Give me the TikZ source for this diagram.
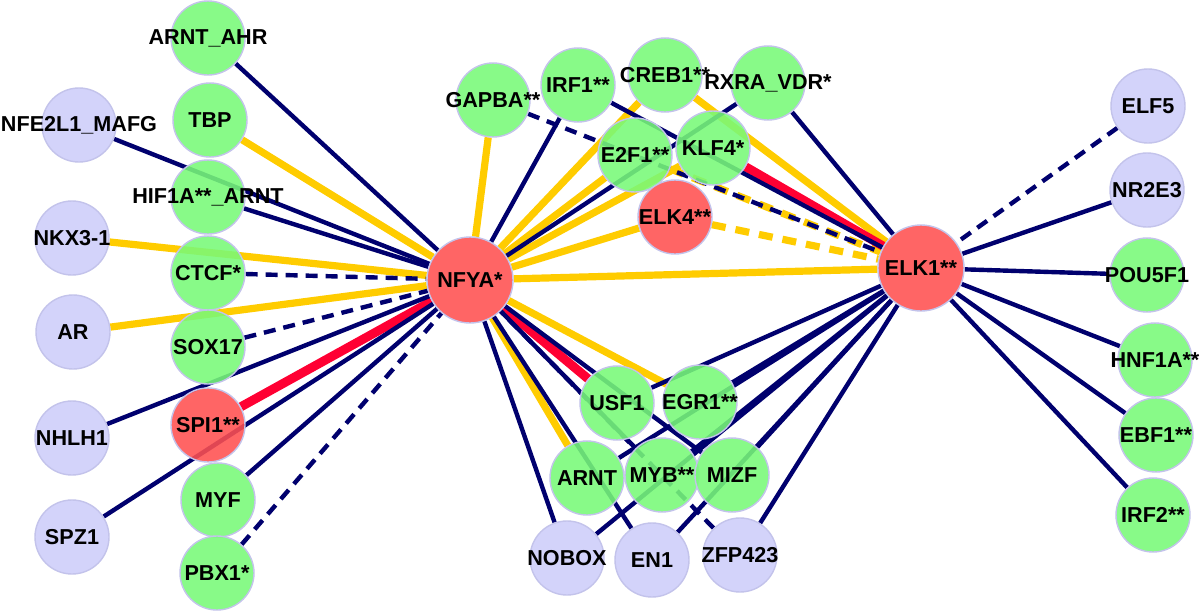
\documentclass[tikz,border=0pt]{standalone}
\usepackage{fontspec}
\setmainfont{Liberation Sans}
\pgfdeclarelayer{bglayer}
\pgfdeclarelayer{edgelayer}
\pgfsetlayers{bglayer,edgelayer,main}
\definecolor{navyc}{RGB}{0,0,110}
\definecolor{yelc}{RGB}{255,204,0}
\definecolor{redc}{RGB}{255,0,51}
\definecolor{grn}{RGB}{120,250,120}
\definecolor{lav}{RGB}{205,205,250}
\definecolor{hubc}{RGB}{255,80,80}
\definecolor{rim}{RGB}{195,195,235}
\tikzset{
 lbl/.style={font=\fontsize{10.8}{12}\selectfont\bfseries, text=black, text opacity=1, inner sep=0pt},
 tf/.style={circle, draw=rim, line width=0.7pt, minimum size=37pt, inner sep=0pt, fill opacity=0.88},
 gn/.style={tf, fill=grn},
 lv/.style={tf, fill=lav},
 rn/.style={tf, fill=hubc},
 hb/.style={rn, minimum size=43pt},
 nv/.style={draw=navyc, line width=2.2pt},
 nvd/.style={nv, dash pattern=on 6pt off 4pt},
 yl/.style={draw=yelc, line width=3.6pt},
 yld/.style={yl, dash pattern=on 7pt off 5pt},
 rd/.style={draw=redc, line width=4.5pt},
}
\begin{document}
\begin{tikzpicture}[x=0.5pt,y=-0.5pt]
\begin{pgfonlayer}{bglayer}
\fill[white] (0,0) rectangle (1200,611);
\end{pgfonlayer}
\useasboundingbox (0,0) rectangle (1200,611);
% hubs
\node[hb, label={[lbl]center:NFYA*}] (nfya) at (470,280) {};
\node[hb, label={[lbl]center:ELK1**}] (elk1) at (921,268) {};
% left outer column
\node[lv, label={[lbl]center:NFE2L1\_MAFG}] (nfe) at (79,125) {};
\node[lv, label={[lbl]center:NKX3-1}] (nkx) at (72,238) {};
\node[lv, label={[lbl]center:AR}] (ar) at (73,332) {};
\node[lv, label={[lbl]center:NHLH1}] (nhlh) at (72,438) {};
\node[lv, label={[lbl]center:SPZ1}] (spz) at (72,537) {};
% left inner column
\node[gn, label={[lbl]center:ARNT\_AHR}] (arntahr) at (208,38) {};
\node[gn, label={[lbl]center:TBP}] (tbp) at (210,120) {};
\node[gn, label={[lbl]center:HIF1A**\_ARNT}] (hif) at (208,197) {};
\node[gn, label={[lbl]center:CTCF*}] (ctcf) at (208,273) {};
\node[gn, label={[lbl]center:SOX17}] (sox) at (208,347) {};
\node[rn, label={[lbl]center:SPI1**}] (spi) at (208,425) {};
\node[gn, label={[lbl]center:MYF}] (myf) at (218,500) {};
\node[gn, label={[lbl]center:PBX1*}] (pbx) at (217,573) {};
% top middle
\node[gn, label={[lbl]center:GAPBA**}] (gapba) at (493,100) {};
\node[gn, label={[lbl]center:IRF1**}] (irf1) at (578,85) {};
\node[gn, label={[lbl]center:CREB1**}] (creb) at (665,75) {};
\node[gn, label={[lbl]center:RXRA\_VDR*}] (rxra) at (768,83) {};
\node[gn, label={[lbl]center:E2F1**}] (e2f1) at (635,155) {};
\node[gn, label={[lbl]center:KLF4*}] (klf4) at (713,148) {};
\node[rn, label={[lbl]center:ELK4**}] (elk4) at (675,217) {};
% bottom middle
\node[gn, label={[lbl]center:USF1}] (usf1) at (617,403) {};
\node[gn, label={[lbl]center:EGR1**}] (egr1) at (700,402) {};
\node[gn, label={[lbl]center:ARNT}] (arnt) at (587,478) {};
\node[gn, label={[lbl]center:MYB**}] (myb) at (662,475) {};
\node[gn, label={[lbl]center:MIZF}] (mizf) at (732,475) {};
\node[lv, label={[lbl]center:NOBOX}] (nobox) at (567,558) {};
\node[lv, label={[lbl]center:EN1}] (en1) at (652,560) {};
\node[lv, label={[lbl]center:ZFP423}] (zfp) at (740,555) {};
% right column
\node[lv, label={[lbl]center:ELF5}] (elf5) at (1148,106) {};
\node[lv, label={[lbl]center:NR2E3}] (nr2e3) at (1147,190) {};
\node[gn, label={[lbl]center:POU5F1}] (pou) at (1147,275) {};
\node[gn, label={[lbl]center:HNF1A**}] (hnf) at (1155,360) {};
\node[gn, label={[lbl]center:EBF1**}] (ebf) at (1156,435) {};
\node[gn, label={[lbl]center:IRF2**}] (irf2) at (1153,515) {};

\begin{pgfonlayer}{edgelayer}
% yellow
\path[yl] (tbp) -- (nfya);
\path[yl] (nkx) -- (nfya);
\path[yl] (ar) -- (nfya);
\path[yl] (gapba) -- (nfya);
\path[yl] (creb) -- (nfya);
\path[yl] (e2f1) -- (nfya);
\path[yl] (klf4) -- (nfya);
\path[yl] (elk4) -- (nfya);
\path[yl] (elk1) -- (nfya);
\path[yl] (egr1) -- (nfya);
\path[yl] (arnt) -- (nfya);
\path[yl] (creb) -- (elk1);
\path[yld] (e2f1) -- (elk1);
\path[yld] (elk4) -- (elk1);
% red
\path[rd] (spi) -- (nfya);
\path[rd] (usf1) -- (nfya);
\path[rd] (klf4) -- (elk1);
% navy to NFYA
\path[nv] (arntahr) -- (nfya);
\path[nv] (nfe) -- (nfya);
\path[nv] (hif) -- (nfya);
\path[nvd] (ctcf) -- (nfya);
\path[nvd] (sox) -- (nfya);
\path[nv] (nhlh) -- (nfya);
\path[nv] (spz) -- (nfya);
\path[nv] (myf) -- (nfya);
\path[nvd] (pbx) -- (nfya);
\path[nv] (irf1) -- (nfya);
\path[nv] (rxra) -- (nfya);
\path[nv] (mizf) -- (nfya);
\path[nv] (myb) -- (nfya);
\path[nvd] (zfp) -- (nfya);
\path[nv] (en1) -- (nfya);
\path[nv] (nobox) -- (nfya);
% navy to ELK1
\path[nvd] (elf5) -- (elk1);
\path[nv] (nr2e3) -- (elk1);
\path[nv] (pou) -- (elk1);
\path[nv] (hnf) -- (elk1);
\path[nv] (ebf) -- (elk1);
\path[nv] (irf2) -- (elk1);
\path[nv] (rxra) -- (elk1);
\path[nv] (irf1) -- (elk1);
\path[nvd] (gapba) -- (elk1);
\path[nv] (usf1) -- (elk1);
\path[nv] (egr1) -- (elk1);
\path[nv] (arnt) -- (elk1);
\path[nv] (myb) -- (elk1);
\path[nv] (mizf) -- (elk1);
\path[nv] (nobox) -- (elk1);
\path[nv] (en1) -- (elk1);
\path[nv] (zfp) -- (elk1);
\end{pgfonlayer}
\end{tikzpicture}
\end{document}
